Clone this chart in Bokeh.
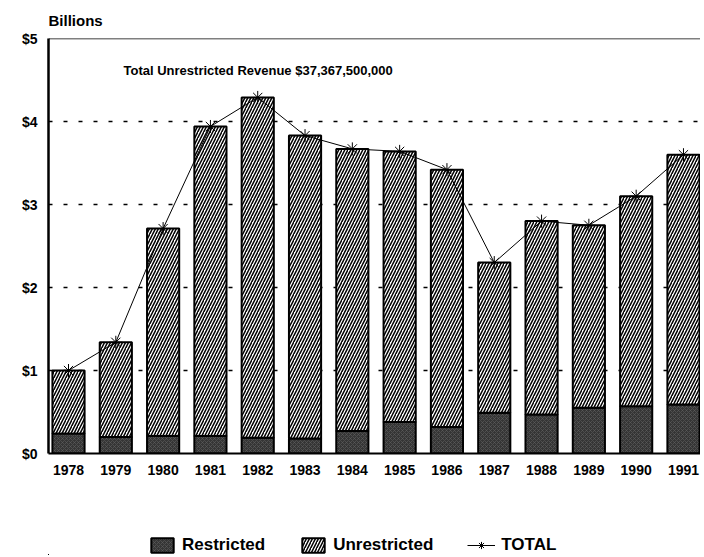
from bokeh.plotting import figure
from bokeh.layouts import column
from bokeh.models import (ColumnDataSource, FixedTicker, Label, Legend, LegendItem, Span, Range1d)
from bokeh.embed import file_html
from bokeh.resources import INLINE

years = ["1978", "1979", "1980", "1981", "1982", "1983", "1984",
         "1985", "1986", "1987", "1988", "1989", "1990", "1991"]
restricted = [0.24, 0.20, 0.21, 0.21, 0.19, 0.18, 0.27,
              0.38, 0.32, 0.49, 0.47, 0.55, 0.57, 0.59]
total = [1.00, 1.34, 2.71, 3.94, 4.29, 3.83, 3.67,
         3.64, 3.42, 2.30, 2.80, 2.75, 3.10, 3.60]
y_ticks = [0, 1, 2, 3, 4, 5]
y_tick_labels = ["$0", "$1", "$2", "$3", "$4", "$5"]
title_text = "Total Unrestricted Revenue $37,367,500,000"
unit_text = "Billions"
legend_labels = ["Restricted", "Unrestricted", "TOTAL"]

xs = list(range(len(years)))
src = ColumnDataSource(dict(x=xs, restricted=restricted, total=total))

FONT = "Liberation Sans"

RES_STYLE = dict(fill_color="#353535", line_color="black", line_width=2,
                 hatch_pattern="x", hatch_color="#606060", hatch_scale=4, hatch_weight=0.6)
UNR_STYLE = dict(fill_color="white", line_color="black", line_width=2,
                 hatch_pattern="/", hatch_color="black", hatch_scale=6, hatch_weight=1.5)
LINE_STYLE = dict(line_color="black", line_width=1)
MARK_STYLE = dict(marker="asterisk", size=13, line_color="black", line_width=1)

p = figure(width=700, height=510, output_backend="svg", toolbar_location=None,
           x_range=Range1d(-0.423, 13.36), y_range=Range1d(0, 5),
           min_border_left=48, min_border_right=0, min_border_top=37,
           min_border_bottom=57, title=unit_text)
p.outline_line_color = None
p.background_fill_color = "white"
p.title.text_font = FONT
p.title.text_font_style = "bold"
p.title.text_font_size = "15px"
p.title.text_color = "black"
p.title.align = "left"
p.title.standoff = 19

p.vbar(x="x", bottom=0, top="restricted", width=0.68, source=src, **RES_STYLE)
p.vbar(x="x", bottom="restricted", top="total", width=0.68, source=src, **UNR_STYLE)
p.line(x="x", y="total", source=src, **LINE_STYLE)
p.scatter(x="x", y="total", source=src, **MARK_STYLE)

# top border
p.add_layout(Span(location=5, dimension="width", line_color="black", line_width=1.5))

# axes
p.xaxis.ticker = FixedTicker(ticks=xs)
p.xaxis.major_label_overrides = {i: y for i, y in enumerate(years)}
p.yaxis.ticker = FixedTicker(ticks=y_ticks)
p.yaxis.major_label_overrides = {v: l for v, l in zip(y_ticks, y_tick_labels)}
for ax in (p.xaxis[0], p.yaxis[0]):
    ax.major_tick_line_color = None
    ax.minor_tick_line_color = None
    ax.axis_line_color = "black"
    ax.major_label_text_font = FONT
    ax.major_label_text_font_style = "bold"
    ax.major_label_text_font_size = "14px"
    ax.major_label_text_color = "black"
p.yaxis.axis_line_width = 2.5
p.xaxis.axis_line_width = 2
p.yaxis.major_label_standoff = 5
p.xaxis.major_label_standoff = 5

p.xgrid.grid_line_color = None
p.ygrid.ticker = FixedTicker(ticks=[1, 2, 3, 4])
p.ygrid.grid_line_color = "black"
p.ygrid.grid_line_dash = "4 11"
p.ygrid.grid_line_width = 1.5

p.add_layout(Label(x=75, y=383, x_units="screen", y_units="screen", text=title_text,
                   text_font=FONT, text_font_style="bold", text_font_size="13px",
                   text_baseline="middle", text_color="black"))

# legend strip below the chart (proxy renderers sit outside its visible range)
lg = figure(width=700, height=45, output_backend="svg", toolbar_location=None,
            x_range=Range1d(500, 501), y_range=Range1d(500, 501),
            min_border=0, min_border_left=0, min_border_right=0,
            min_border_top=0, min_border_bottom=0)
lg.axis.visible = False
lg.grid.visible = False
lg.outline_line_color = None
d_res = lg.vbar(x="x", bottom=0, top="restricted", width=0.68, source=src, **RES_STYLE)
d_unr = lg.vbar(x="x", bottom="restricted", top="total", width=0.68, source=src, **UNR_STYLE)
d_line = lg.line(x="x", y="total", source=src, **LINE_STYLE)
d_mark = lg.scatter(x="x", y="total", source=src, **MARK_STYLE)

legend = Legend(items=[LegendItem(label=legend_labels[0], renderers=[d_res]),
                       LegendItem(label=legend_labels[1], renderers=[d_unr]),
                       LegendItem(label=legend_labels[2], renderers=[d_line, d_mark])],
                orientation="horizontal", location=(100, 0),
                glyph_width=28, glyph_height=18, label_standoff=6, spacing=34,
                padding=0, margin=0, border_line_color=None, background_fill_alpha=0,
                label_text_font=FONT, label_text_font_style="bold",
                label_text_font_size="17px", label_text_color="black")
lg.add_layout(legend, "center")

layout = column(p, lg, spacing=0)
open("out.html", "w").write(file_html(layout, INLINE))
